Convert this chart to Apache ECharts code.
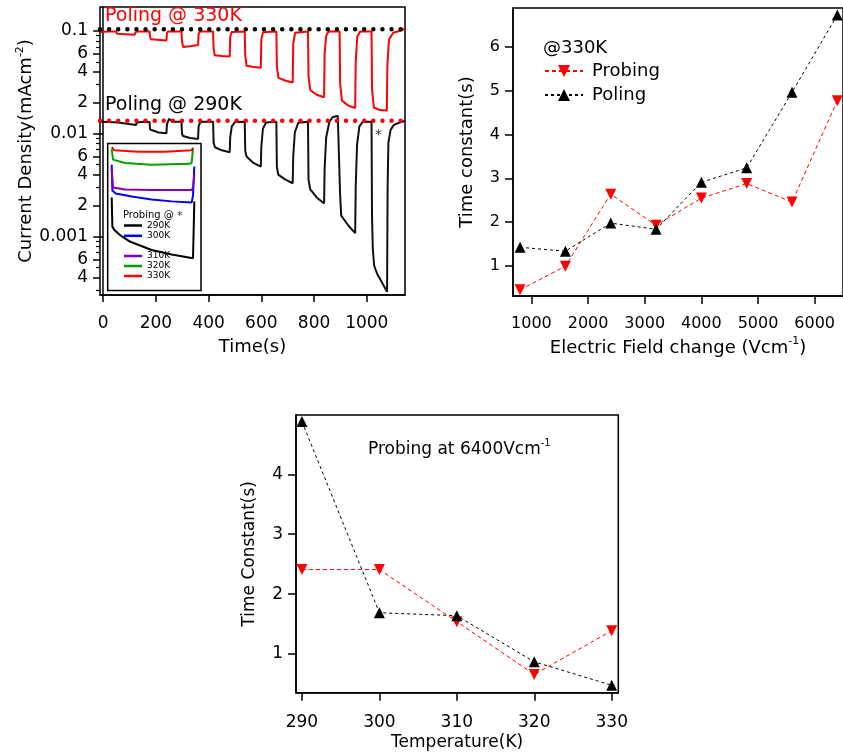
<!DOCTYPE html>
<html><head><meta charset="utf-8">
<script src="https://cdn.jsdelivr.net/npm/echarts@6/dist/echarts.min.js"></script>
<style>html,body{margin:0;padding:0;background:#fff}#c{width:843px;height:755px}</style>
</head><body><div id="c"></div>
<script>
// ---------- Panel A: current density (mA cm^-2) vs time (s) ----------
const poling330 = [
 [-10,0.098],[20,0.099],[50,0.099],
 [52,0.094],[56,0.093],[120,0.092],[122,0.097],[130,0.099],
 [176,0.099],[178,0.088],[181,0.083],[240,0.081],[242,0.094],[246,0.099],
 [297,0.099],[299,0.080],[303,0.070],[330,0.071],[360,0.073],[362,0.093],[367,0.099],
 [417,0.099],[419,0.068],[423,0.058],[450,0.057],[480,0.0565],[482,0.088],[488,0.098],
 [537,0.099],[539,0.058],[544,0.046],[570,0.0447],[598,0.044],[600,0.082],[606,0.097],
 [657,0.099],[659,0.045],[665,0.035],[690,0.033],[719,0.0315],[721,0.075],[728,0.096],
 [777,0.099],[779,0.036],[786,0.0265],[810,0.0240],[838,0.0227],[840,0.060],[846,0.090],[855,0.099],
 [897,0.099],[899,0.030],[906,0.021],[930,0.0188],[956,0.0178],[958,0.050],[964,0.088],[975,0.099],
 [1018,0.099],[1020,0.027],[1027,0.0180],[1050,0.0170],[1076,0.0168],[1078,0.045],[1084,0.082],[1100,0.096],[1130,0.101],[1145,0.106]
];
const poling290 = [
 [-10,0.0131],[20,0.0130],[56,0.0129],[58,0.0124],[125,0.0122],[128,0.0129],[150,0.0131],
 [176,0.0130],[178,0.0110],[182,0.0106],[210,0.0103],[240,0.0101],[242,0.0124],[250,0.0140],[262,0.0131],
 [297,0.0131],[299,0.0100],[303,0.0095],[330,0.0091],[360,0.0089],[362,0.0118],[368,0.0129],[380,0.0131],
 [417,0.0131],[419,0.0082],[424,0.0074],[450,0.0069],[480,0.0066],[482,0.0093],[488,0.0118],[500,0.0130],
 [537,0.0131],[539,0.0068],[544,0.0060],[570,0.0052],[598,0.0048],[600,0.0075],[606,0.0112],[618,0.0129],
 [657,0.0131],[659,0.0048],[664,0.0040],[690,0.0036],[719,0.0033],[721,0.0060],[727,0.0103],[740,0.0128],
 [777,0.0131],[779,0.0036],[785,0.0029],[810,0.0024],[838,0.0021],[840,0.0045],[846,0.0092],[858,0.0130],[870,0.0145],[890,0.0150],
 [897,0.0149],[899,0.0025],[903,0.00160],[930,0.00128],[956,0.00108],[958,0.0030],[963,0.0078],[972,0.0118],[985,0.0131],
 [1018,0.0131],[1020,0.0015],[1023,0.00075],[1028,0.00052],[1040,0.00043],[1052,0.00038],[1065,0.00033],[1077,0.00029],
 [1079,0.0030],[1082,0.0082],[1090,0.0108],[1100,0.0120],[1115,0.0126],[1130,0.0130],[1145,0.0133]
];
const refLevel330 = 0.104;
const refLevel290 = 0.0134;
const timeRange = [-12, 1145];
const timeTicks = [0, 200, 400, 600, 800, 1000];
const currentRange = [0.000270, 0.1712];
const currentDecadeTicks = [0.1, 0.01, 0.001];
const currentLabelTicks = [0.1, 0.06, 0.04, 0.02, 0.01, 0.006, 0.004, 0.002, 0.001, 0.0006, 0.0004];
const currentLabelText = ['0.1', '6', '4', '2', '0.01', '6', '4', '2', '0.001', '6', '4'];
const currentMidTicks = [0.06, 0.04, 0.02, 0.006, 0.004, 0.002, 0.0006, 0.0004];
const currentSmallTicks = [0.09, 0.08, 0.07, 0.05, 0.03, 0.009, 0.008, 0.007, 0.005, 0.003, 0.0009, 0.0008, 0.0007, 0.0005, 0.0003];

// ---------- Inset: probing transients ----------
const probe330 = [[0,0.0074],[2,0.0069],[20,0.0067],[40,0.0067],[60,0.0069],[61,0.0073]];
const probe320 = [[0,0.0071],[1,0.0056],[10,0.0052],[30,0.0050],[58,0.0051],[60,0.0052],[61,0.0072]];
const probe310 = [[0,0.0046],[1,0.0030],[10,0.00287],[30,0.00284],[60,0.00284],[61,0.0030],[62,0.0040]];
const probe300 = [[0,0.0050],[0.5,0.0028],[3,0.00262],[15,0.00245],[30,0.00230],[45,0.00220],[60,0.00214],[61,0.0025],[62,0.0048]];
const probe290 = [[0,0.0024],[0.5,0.00125],[2,0.00116],[6,0.00104],[14,0.00089],[30,0.00074],[45,0.00067],[61,0.000615],[62,0.0022]];
const insetTimeRange = [-3, 67];
const insetCurrentRange = [0.000299, 0.00804];

// ---------- Panel B: time constant vs electric field change ----------
const fieldChange = [800, 1600, 2400, 3200, 4000, 4800, 5600, 6400];
const probingVsField = [0.46, 1.0, 2.64, 1.93, 2.55, 2.88, 2.46, 4.77];
const polingVsField = [1.43, 1.34, 1.98, 1.84, 2.91, 3.24, 4.96, 6.72];
const fieldTicks = [1000, 2000, 3000, 4000, 5000, 6000];
const tauTicksB = [1, 2, 3, 4, 5, 6];

// ---------- Panel C: time constant vs temperature ----------
const temperature = [290, 300, 310, 320, 330];
const probingVsTemp = [2.41, 2.41, 1.54, 0.66, 1.39];
const polingVsTemp = [4.88, 1.69, 1.64, 0.87, 0.48];
const tempTicks = [290, 300, 310, 320, 330];
const tauTicksC = [1, 2, 3, 4];

const FF = 'DejaVu Sans';
const lg = v => Math.log10(v);
const logPairs = arr => arr.map(p => [p[0], lg(p[1])]);
const plain = v => String(Math.round(v));
const currentLabel = v => {
  let best = 0, bd = 1e9;
  currentLabelTicks.forEach((t, i) => { const d = Math.abs(lg(t) - v); if (d < bd) { bd = d; best = i; } });
  return currentLabelText[best];
};
const black = '#000';
const axisLine = { show: true, lineStyle: { color: black, width: 1.5 } };
const supRich = size => ({
  a: { fontSize: size, fontFamily: FF, color: black, verticalAlign: 'bottom' },
  s: { fontSize: Math.round(size * 0.6), fontFamily: FF, color: black, verticalAlign: 'top', padding: [0, 0, 10, 0] }
});

const chart = echarts.init(document.getElementById('c'), null, { renderer: 'canvas' });

const yLogCommon = {
  gridIndex: 0, type: 'value', position: 'left', offset: 0,
  min: lg(currentRange[0]), max: lg(currentRange[1]), splitLine: { show: false }
};

const option = {
  animation: false,
  backgroundColor: '#fff',
  grid: [
    { left: 100, top: 7, width: 305, height: 288, show: true, borderColor: black, borderWidth: 1.5, backgroundColor: 'transparent' },
    { left: 107.7, top: 143.5, width: 93.3, height: 147, show: true, borderColor: black, borderWidth: 1.5, backgroundColor: '#fff', z: 5 },
    { left: 513, top: 8, width: 334, height: 288, show: true, borderColor: black, borderWidth: 1.5 },
    { left: 296, top: 415, width: 322.3, height: 277.7, show: true, borderColor: black, borderWidth: 1.5 }
  ],
  xAxis: [
    { gridIndex: 0, type: 'value', min: timeRange[0], max: timeRange[1], splitLine: { show: false }, axisLine,
      axisTick: { show: true, length: 7, lineStyle: { color: black, width: 1.5 }, customValues: timeTicks },
      axisLabel: { customValues: timeTicks, formatter: plain, fontSize: 17, fontFamily: FF, color: black, margin: 20 },
      name: 'Time(s)', nameLocation: 'middle', nameGap: 43, nameTextStyle: { fontSize: 18, fontFamily: FF, color: black } },
    { gridIndex: 1, type: 'value', min: insetTimeRange[0], max: insetTimeRange[1], show: false },
    { gridIndex: 2, type: 'value', min: 675, max: 6500, splitLine: { show: false }, axisLine,
      axisTick: { show: true, length: 8, lineStyle: { color: black, width: 1.5 }, customValues: fieldTicks },
      axisLabel: { customValues: fieldTicks, formatter: plain, fontSize: 16, fontFamily: FF, color: black, margin: 20 },
      name: '{a|Electric Field change (Vcm}{s|-1}{a|)}', nameLocation: 'middle', nameGap: 40,
      nameTextStyle: { fontSize: 18, fontFamily: FF, color: black, rich: supRich(18) } },
    { gridIndex: 3, type: 'value', min: 289.23, max: 330.85, splitLine: { show: false }, axisLine,
      axisTick: { show: true, length: 8, lineStyle: { color: black, width: 1.5 }, customValues: tempTicks },
      axisLabel: { customValues: tempTicks, formatter: plain, fontSize: 17, fontFamily: FF, color: black, margin: 21 },
      name: 'Temperature(K)', nameLocation: 'middle', nameGap: 41, nameTextStyle: { fontSize: 17, fontFamily: FF, color: black } }
  ],
  yAxis: [
    Object.assign({}, yLogCommon, {
      axisLine,
      axisTick: { show: true, length: 10, lineStyle: { color: black, width: 1.5 }, customValues: currentDecadeTicks.map(lg) },
      axisLabel: { customValues: currentLabelTicks.map(lg), formatter: currentLabel, fontSize: 17, fontFamily: FF, color: black, margin: 12 },
      name: '{a|Current Density(mAcm}{s|-2}{a|)}', nameLocation: 'middle', nameRotate: 90, nameGap: 64,
      nameTextStyle: { fontSize: 18, fontFamily: FF, color: black, rich: supRich(18) } }),
    Object.assign({}, yLogCommon, {
      axisLine: { show: false },
      axisTick: { show: true, length: 7, lineStyle: { color: black, width: 1.5 }, customValues: currentMidTicks.map(lg) },
      axisLabel: { show: false } }),
    Object.assign({}, yLogCommon, {
      axisLine: { show: false },
      axisTick: { show: true, length: 4, lineStyle: { color: black, width: 1.2 }, customValues: currentSmallTicks.map(lg) },
      axisLabel: { show: false } }),
    { gridIndex: 1, type: 'value', min: lg(insetCurrentRange[0]), max: lg(insetCurrentRange[1]), show: false },
    { gridIndex: 2, type: 'value', min: 0.32, max: 6.88, splitLine: { show: false }, axisLine,
      axisTick: { show: true, length: 8, lineStyle: { color: black, width: 1.5 }, customValues: tauTicksB },
      axisLabel: { customValues: tauTicksB, formatter: plain, fontSize: 16, fontFamily: FF, color: black, margin: 13 },
      name: 'Time constant(s)', nameLocation: 'middle', nameRotate: 90, nameGap: 37,
      nameTextStyle: { fontSize: 18, fontFamily: FF, color: black } },
    { gridIndex: 3, type: 'value', min: 0.355, max: 4.99, splitLine: { show: false }, axisLine,
      axisTick: { show: true, length: 8, lineStyle: { color: black, width: 1.5 }, customValues: tauTicksC },
      axisLabel: { customValues: tauTicksC, formatter: plain, fontSize: 17, fontFamily: FF, color: black, margin: 13 },
      name: 'Time Constant(s)', nameLocation: 'middle', nameRotate: 90, nameGap: 38,
      nameTextStyle: { fontSize: 17, fontFamily: FF, color: black } }
  ],
  legend: [
    { data: ['Probing', 'Poling'], orient: 'vertical', left: 544, top: 62, padding: 0, itemWidth: 38, itemHeight: 15, itemGap: 6,
      selectedMode: false, textStyle: { fontSize: 18, fontFamily: FF, color: black, padding: [0, 0, 0, 4] } },
    { data: ['290K', '300K'], orient: 'vertical', left: 124, top: 221, padding: 0, itemWidth: 18, itemHeight: 2.5, itemGap: 1.3, icon: 'rect',
      selectedMode: false, z: 8, textStyle: { fontSize: 9, fontFamily: FF, color: black } },
    { data: ['310K', '320K', '330K'], orient: 'vertical', left: 124, top: 251.5, padding: 0, itemWidth: 18, itemHeight: 2.5, itemGap: 1, icon: 'rect',
      selectedMode: false, z: 8, textStyle: { fontSize: 9, fontFamily: FF, color: black } }
  ],
  series: [
    { name: 'Poling330', type: 'line', xAxisIndex: 0, yAxisIndex: 0, data: logPairs(poling330), symbol: 'none',
      lineStyle: { color: '#ff0000', width: 2 }, z: 2 },
    { name: 'Poling290', type: 'line', xAxisIndex: 0, yAxisIndex: 0, data: logPairs(poling290), symbol: 'none',
      lineStyle: { color: '#111', width: 2 }, z: 2 },
    { name: 'ref330', type: 'line', xAxisIndex: 0, yAxisIndex: 0, symbol: 'none', z: 3,
      data: logPairs([[timeRange[0], refLevel330], [timeRange[1], refLevel330]]),
      lineStyle: { color: black, width: 4.5, type: [0.01, 9.1], cap: 'round' } },
    { name: 'ref290', type: 'line', xAxisIndex: 0, yAxisIndex: 0, symbol: 'none', z: 3,
      data: logPairs([[timeRange[0], refLevel290], [timeRange[1], refLevel290]]),
      lineStyle: { color: '#ff0000', width: 4.5, type: [0.01, 9.1], cap: 'round' } },
    { name: '290K', type: 'line', xAxisIndex: 1, yAxisIndex: 3, data: logPairs(probe290), symbol: 'none', z: 6,
      lineStyle: { color: black, width: 2 }, itemStyle: { color: black } },
    { name: '300K', type: 'line', xAxisIndex: 1, yAxisIndex: 3, data: logPairs(probe300), symbol: 'none', z: 6,
      lineStyle: { color: '#0000ff', width: 2 }, itemStyle: { color: '#0000ff' } },
    { name: '310K', type: 'line', xAxisIndex: 1, yAxisIndex: 3, data: logPairs(probe310), symbol: 'none', z: 6,
      lineStyle: { color: '#8000c8', width: 2 }, itemStyle: { color: '#8000c8' } },
    { name: '320K', type: 'line', xAxisIndex: 1, yAxisIndex: 3, data: logPairs(probe320), symbol: 'none', z: 6,
      lineStyle: { color: '#00a000', width: 2 }, itemStyle: { color: '#00a000' } },
    { name: '330K', type: 'line', xAxisIndex: 1, yAxisIndex: 3, data: logPairs(probe330), symbol: 'none', z: 6,
      lineStyle: { color: '#ff0000', width: 2 }, itemStyle: { color: '#ff0000' } },
    { name: 'Probing', type: 'line', xAxisIndex: 2, yAxisIndex: 4, data: fieldChange.map((f, i) => [f, probingVsField[i]]),
      symbol: 'triangle', symbolRotate: 180, symbolSize: 11, lineStyle: { color: '#ff0000', width: 1, type: [4, 3] },
      itemStyle: { color: '#ff0000' } },
    { name: 'Poling', type: 'line', xAxisIndex: 2, yAxisIndex: 4, data: fieldChange.map((f, i) => [f, polingVsField[i]]),
      symbol: 'triangle', symbolSize: 11, lineStyle: { color: black, width: 1, type: [3, 3] },
      itemStyle: { color: black } },
    { name: 'Probing (T)', type: 'line', xAxisIndex: 3, yAxisIndex: 5, data: temperature.map((t, i) => [t, probingVsTemp[i]]),
      symbol: 'triangle', symbolRotate: 180, symbolSize: 11, lineStyle: { color: '#ff0000', width: 1, type: [4, 3] },
      itemStyle: { color: '#ff0000' } },
    { name: 'Poling (T)', type: 'line', xAxisIndex: 3, yAxisIndex: 5, data: temperature.map((t, i) => [t, polingVsTemp[i]]),
      symbol: 'triangle', symbolSize: 11, lineStyle: { color: black, width: 1, type: [3, 3] },
      itemStyle: { color: black } }
  ],
  graphic: [
    { type: 'text', left: 105, top: 7, z: 20, style: { text: 'Poling @ 330K', fontSize: 19, fontFamily: FF, fill: '#ff0000' } },
    { type: 'text', left: 105, top: 96, z: 20, style: { text: 'Poling @ 290K', fontSize: 19, fontFamily: FF, fill: black } },
    { type: 'text', left: 375, top: 128, z: 20, style: { text: '*', fontSize: 14, fontFamily: FF, fill: '#333' } },
    { type: 'text', left: 123, top: 210, z: 20, style: { text: 'Probing @', fontSize: 10, fontFamily: FF, fill: black } },
    { type: 'text', left: 177, top: 211, z: 20, style: { text: '*', fontSize: 11, fontFamily: FF, fill: '#333' } },
    { type: 'text', left: 543, top: 39, z: 20, style: { text: '@330K', fontSize: 18, fontFamily: FF, fill: black } },
    { type: 'text', left: 368, top: 438, z: 20, style: { text: '{a|Probing at 6400Vcm}{s|-1}', rich: supRich(17) } }
  ]
};
chart.setOption(option);
</script></body></html>
